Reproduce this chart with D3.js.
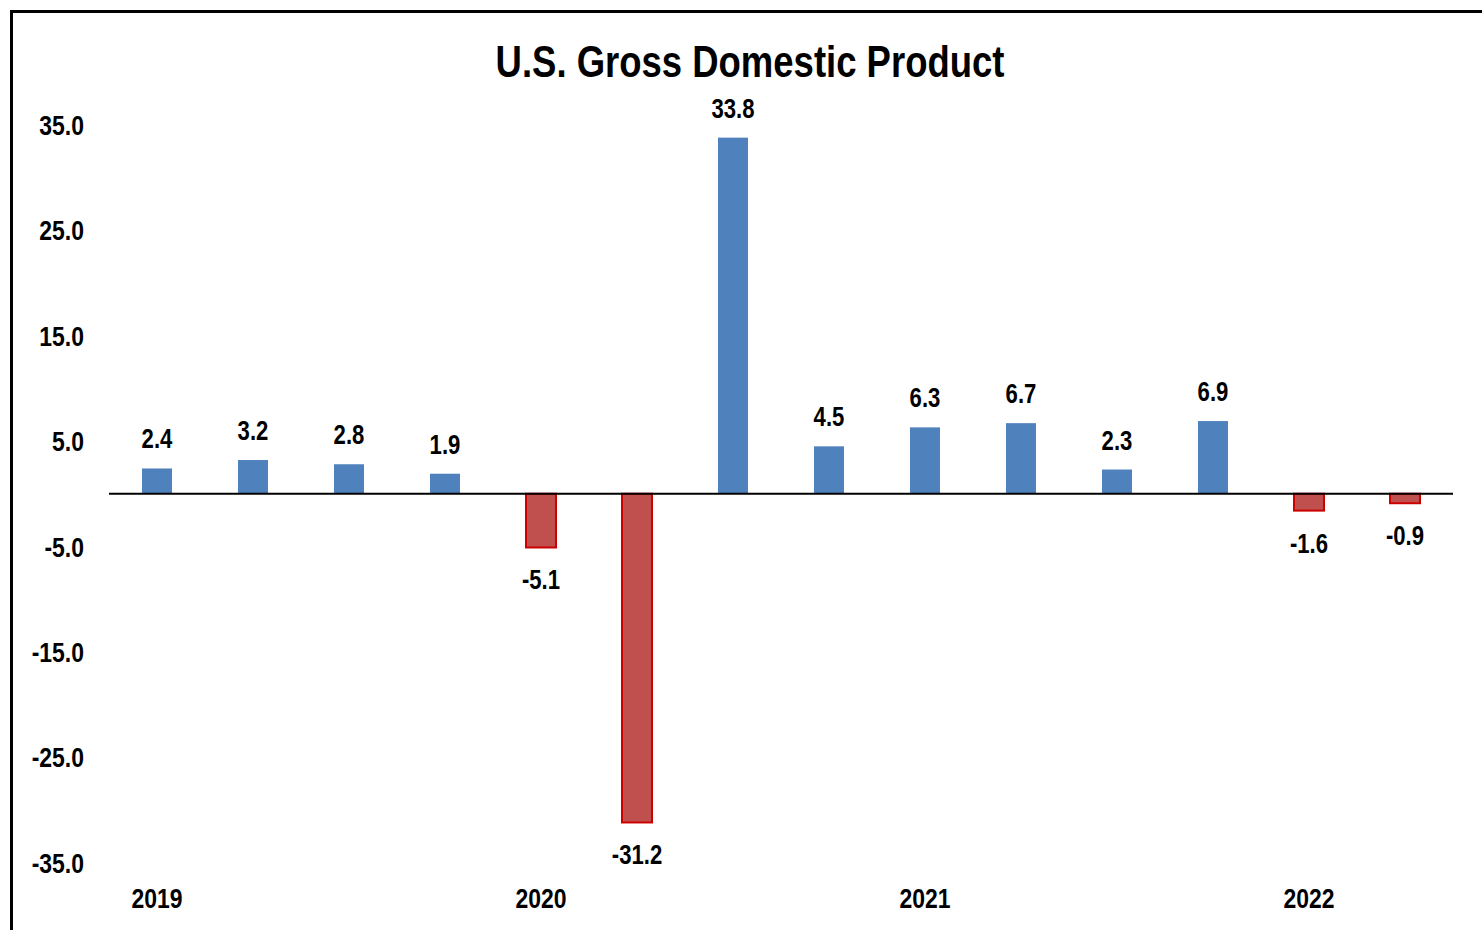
<!DOCTYPE html>
<html>
<head>
<meta charset="utf-8">
<script src="https://cdn.jsdelivr.net/npm/d3@7"></script>
<style>
  body { margin: 0; background: #fff; }
  svg text { font-family: "Liberation Sans", Arial, sans-serif; font-weight: bold; fill: #000; }
</style>
</head>
<body>
<div id="chart-container"></div>
<script>
// quarterly real GDP growth, annualized %
const quarters = ["2019Q1", "2019Q2", "2019Q3", "2019Q4", "2020Q1", "2020Q2", "2020Q3",
  "2020Q4", "2021Q1", "2021Q2", "2021Q3", "2021Q4", "2022Q1", "2022Q2"];
const gdpValues = [2.4, 3.2, 2.8, 1.9, -5.1, -31.2, 33.8, 4.5, 6.3, 6.7, 2.3, 6.9, -1.6, -0.9];
const yearLabels = ["2019", "2020", "2021", "2022"];
const yearQuarters = ["2019Q1", "2020Q1", "2021Q1", "2022Q1"];
const yTicks = [35, 25, 15, 5, -5, -15, -25, -35];

const data = quarters.map((q, i) => ({ quarter: q, value: gdpValues[i] }));

const svgWidth = 1482;
const svgHeight = 930;
const narrow = 0.82; // no Arial Narrow here, so squeeze Liberation Sans

const fmt = v => d3.format(".1f")(v).replace("\u2212", "-");

const svg = d3.select("#chart-container")
  .append("svg")
  .attr("width", svgWidth)
  .attr("height", svgHeight);

// outer frame (right and bottom edges sit outside the picture)
svg.append("rect")
  .attr("x", 11.5).attr("y", 11.5)
  .attr("width", svgWidth).attr("height", svgHeight)
  .attr("fill", "none")
  .attr("stroke", "#000")
  .attr("stroke-width", 3);

// scales
const xScale = d3.scaleBand()
  .domain(quarters)
  .range([109, 1453])
  .paddingInner(0.6875)
  .paddingOuter(0.34375);

const yScale = d3.scaleLinear()
  .domain([-35, 35])
  .range([862.5, 125]);

// helper: squeezed text at a position
const addText = (sel, x, y) => sel
  .attr("transform", (d, i) => `translate(${x(d, i)},${y(d, i)}) scale(${narrow},1)`);

// title
svg.append("text")
  .datum("U.S. Gross Domestic Product")
  .call(addText, () => 750, () => 77)
  .attr("text-anchor", "middle")
  .style("font-size", "44.5px")
  .text(d => d);

// y tick labels (no axis line)
svg.selectAll(".ytick")
  .data(yTicks)
  .join("text")
  .attr("class", "ytick")
  .call(addText, () => 84, d => yScale(d))
  .attr("dy", "0.36em")
  .attr("text-anchor", "end")
  .style("font-size", "28px")
  .text(d => fmt(d));

// bars
svg.selectAll(".bar")
  .data(data)
  .join("rect")
  .attr("class", "bar")
  .attr("x", d => xScale(d.quarter))
  .attr("width", xScale.bandwidth())
  .attr("y", d => yScale(Math.max(0, d.value)))
  .attr("height", d => Math.abs(yScale(d.value) - yScale(0)))
  .attr("fill", d => d.value >= 0 ? "#4F81BD" : "#C0504D")
  .attr("stroke", d => d.value >= 0 ? "none" : "#CC0000")
  .attr("stroke-width", 2);

// zero line
svg.append("line")
  .attr("x1", 109).attr("x2", 1453)
  .attr("y1", yScale(0)).attr("y2", yScale(0))
  .attr("stroke", "#000")
  .attr("stroke-width", 2);

// value labels
svg.selectAll(".val")
  .data(data)
  .join("text")
  .attr("class", "val")
  .call(addText,
    d => xScale(d.quarter) + xScale.bandwidth() / 2,
    d => d.value >= 0 ? yScale(d.value) - 20 : yScale(d.value) + 42)
  .attr("text-anchor", "middle")
  .style("font-size", "27px")
  .text(d => fmt(d.value));

// year labels
svg.selectAll(".year")
  .data(yearLabels)
  .join("text")
  .attr("class", "year")
  .call(addText, (d, i) => xScale(yearQuarters[i]) + xScale.bandwidth() / 2, () => 907.5)
  .attr("text-anchor", "middle")
  .style("font-size", "28px")
  .text(d => d);
</script>
</body>
</html>
